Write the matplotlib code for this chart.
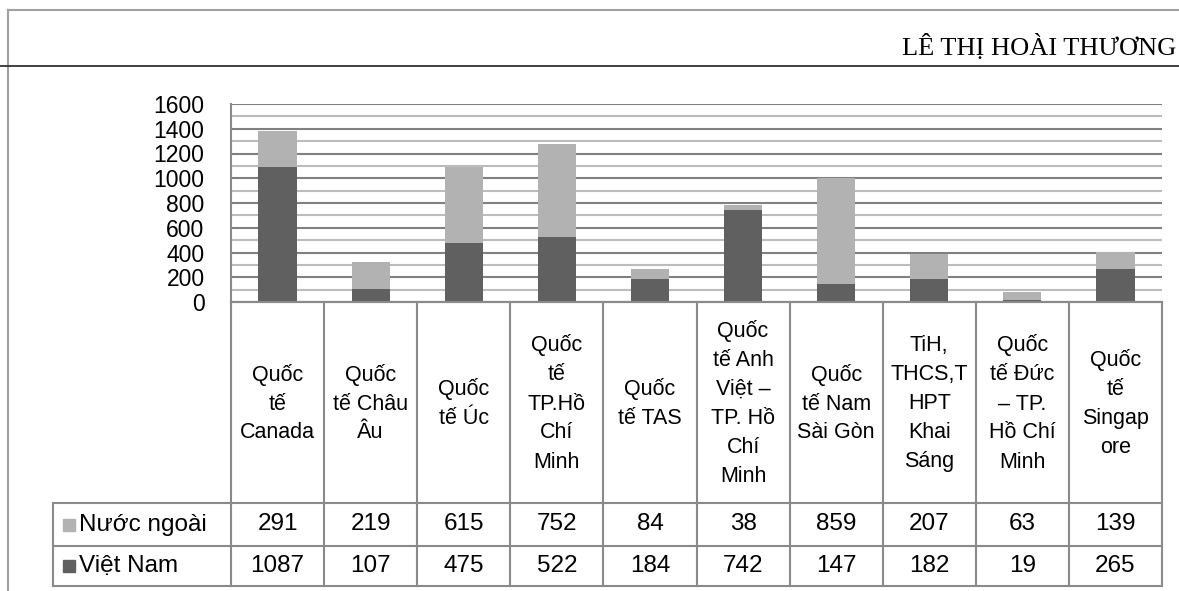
import matplotlib
matplotlib.use('Agg')
import matplotlib.pyplot as plt
from matplotlib.lines import Line2D
import numpy as np

# ---------------- data ----------------
categories = [
    'Quốc\ntế\nCanada',
    'Quốc\ntế Châu\nÂu',
    'Quốc\ntế Úc',
    'Quốc\ntế\nTP.Hồ\nChí\nMinh',
    'Quốc\ntế TAS',
    'Quốc\ntế Anh\nViệt –\nTP. Hồ\nChí\nMinh',
    'Quốc\ntế Nam\nSài Gòn',
    'TiH,\nTHCS,T\nHPT\nKhai\nSáng',
    'Quốc\ntế Đức\n– TP.\nHồ Chí\nMinh',
    'Quốc\ntế\nSingap\nore',
]
nuoc_ngoai = [291, 219, 615, 752, 84, 38, 859, 207, 63, 139]
viet_nam = [1087, 107, 475, 522, 184, 742, 147, 182, 19, 265]
series_labels = ['Nước ngoài', 'Việt Nam']
yticks = [0, 200, 400, 600, 800, 1000, 1200, 1400, 1600]
header_text = 'LÊ THỊ HOÀI THƯƠNG'

# ---------------- style ----------------
plt.rcParams['font.family'] = ['Liberation Sans', 'DejaVu Sans']
c_light = '#b2b2b2'
c_dark = '#606060'
c_line = '#8a8a8a'

W, H = 1179, 591
fig = plt.figure(figsize=(W / 100, H / 100), dpi=100)


def px(x0, y0, x1, y1):
    return [x0 / W, 1 - y1 / H, (x1 - x0) / W, (y1 - y0) / H]


# page frame + header
fig.add_artist(Line2D([8 / W, 8 / W], [0, 1 - 10 / H], transform=fig.transFigure,
                      color='#a0a0a0', lw=1.5))
fig.add_artist(Line2D([8 / W, 1], [1 - 10 / H, 1 - 10 / H], transform=fig.transFigure,
                      color='#a0a0a0', lw=1.5))
fig.add_artist(Line2D([0, 1], [1 - 66 / H, 1 - 66 / H], transform=fig.transFigure,
                      color='#333333', lw=1.3))
fig.text(1176 / W, 1 - 47 / H, header_text, ha='right', va='center',
         family=['Liberation Serif', 'DejaVu Serif'], fontsize=19, color='black')

# ---------------- chart ----------------
ax = fig.add_axes(px(231, 104, 1162, 302))
x = np.arange(len(categories))
bw = 0.41
ax.bar(x, viet_nam, width=bw, color=c_dark, zorder=3)
ax.bar(x, nuoc_ngoai, width=bw, bottom=viet_nam, color=c_light, zorder=3)
ax.set_xlim(-0.5, len(categories) - 0.5)
ax.set_ylim(0, 1600)
ax.set_yticks(yticks)
ax.set_yticks(np.arange(100, 1600, 200), minor=True)
ax.set_xticks([])
ax.tick_params(axis='y', which='both', length=0, pad=19, labelsize=16.5)
ax.yaxis.grid(True, which='major', color='#808080', lw=1.5, zorder=0)
ax.yaxis.grid(True, which='minor', color='#bcbcbc', lw=1.5, zorder=0)
for s in ['top', 'right']:
    ax.spines[s].set_visible(False)
for s in ['left', 'bottom']:
    ax.spines[s].set_color(c_line)
    ax.spines[s].set_linewidth(1.5)

# ---------------- data table ----------------
tax = fig.add_axes(px(231, 302, 1162, 586))
n = len(categories)
tax.set_xlim(-0.5, n - 0.5)
tax.set_ylim(284, 0)
tax.axis('off')
colw_px = (1162 - 231) / n
xleft = -0.5 - (231 - 53) / colw_px
r_top, r1, r2, r_bot = 0, 201, 244, 284

lk = dict(color=c_line, lw=1.5, clip_on=False, solid_capstyle='projecting')
# vertical lines
for i in range(n + 1):
    tax.plot([i - 0.5, i - 0.5], [r_top, r_bot], **lk)
tax.plot([xleft, xleft], [r1, r_bot], **lk)
# horizontal lines
tax.plot([-0.5, n - 0.5], [r_top, r_top], **lk)
for yy in (r1, r2, r_bot):
    tax.plot([xleft, n - 0.5], [yy, yy], **lk)

# header row
for i, cat in enumerate(categories):
    tax.text(i, (r_top + r1) / 2 + 1, cat, ha='center', va='center', fontsize=15.5,
             linespacing=1.5, clip_on=False)

# value rows
rows = [(nuoc_ngoai, c_light, (r1 + r2) / 2), (viet_nam, c_dark, (r2 + r_bot) / 2)]
for (vals, col, yc), lab in zip(rows, series_labels):
    for i, v in enumerate(vals):
        tax.text(i, yc, f'{v}', ha='center', va='center', fontsize=17.5, clip_on=False)
    tax.plot([xleft + (69 - 53) / colw_px], [yc], marker='s', markersize=9,
             color=col, clip_on=False, linestyle='none')
    tax.text(xleft + (79 - 53) / colw_px, yc, lab, ha='left', va='center',
             fontsize=17.5, clip_on=False)

fig.savefig('out.png', dpi=100)
